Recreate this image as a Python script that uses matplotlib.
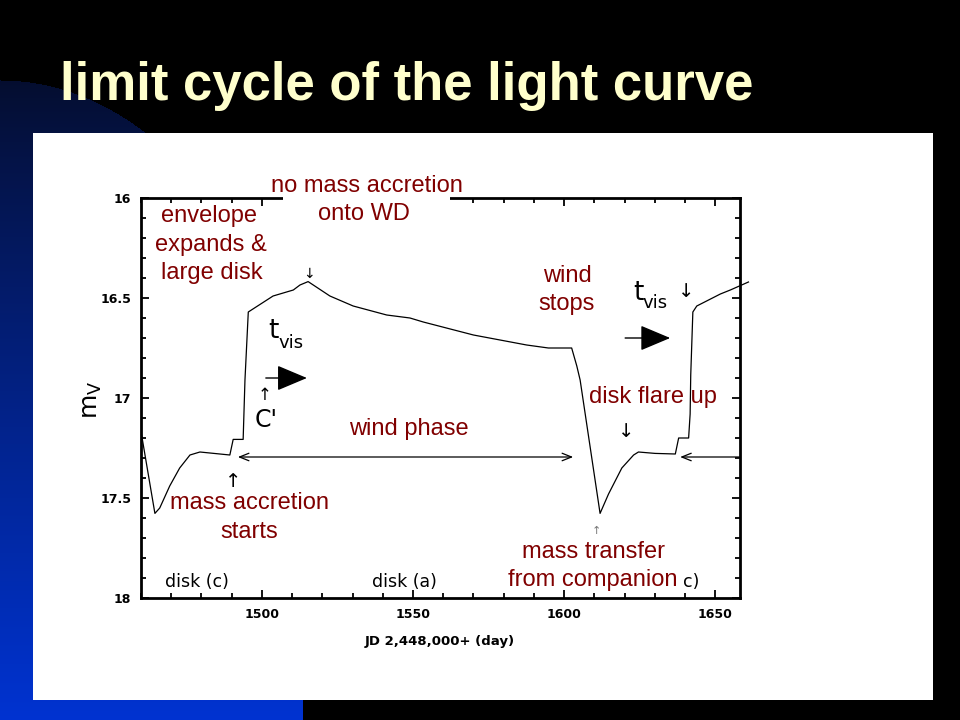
import numpy as np
import matplotlib
matplotlib.use("Agg")
import matplotlib.pyplot as plt
from matplotlib.patches import Rectangle
from matplotlib.ticker import MultipleLocator
from matplotlib import font_manager

# ---------------- data ----------------
days = [1460.2, 1464.6, 1466.2, 1469.5, 1472.8, 1476.2, 1479.5, 1482.8, 1489.4,
        1490.5, 1493.8, 1494.4, 1495.5, 1503.7, 1510.4, 1512.6, 1515.3, 1522.5,
        1530.2, 1541.3, 1549.0, 1553.4, 1570.0, 1587.6, 1594.8, 1602.5, 1604.2,
        1605.3, 1611.9, 1614.7, 1619.1, 1623.0, 1624.6, 1630.1, 1636.8, 1637.9,
        1641.2, 1641.7, 1641.9, 1642.6, 1643.9, 1651.7, 1655.0, 1661.0]
mags = [17.185, 17.577, 17.55, 17.44, 17.35, 17.285, 17.27, 17.275, 17.285,
        17.207, 17.207, 16.91, 16.57, 16.49, 16.46, 16.435, 16.418, 16.49,
        16.54, 16.585, 16.60, 16.62, 16.685, 16.735, 16.75, 16.75, 16.84,
        16.91, 17.577, 17.48, 17.35, 17.285, 17.27, 17.277, 17.28, 17.2,
        17.2, 17.08, 16.885, 16.57, 16.54, 16.48, 16.46, 16.42]
x_ticks = [1500, 1550, 1600, 1650]
y_ticks = [16, 16.5, 17, 17.5, 18]
y_tick_labels = ["16", "16.5", "17", "17.5", "18"]
title = "limit cycle of the light curve"
x_label = "JD 2,448,000+ (day)"
red_lines = [("no mass accretion", 367, 191.5), ("onto WD", 364, 220),
             ("envelope", 209, 222), ("expands &", 211, 250.5), ("large disk", 212, 279),
             ("wind", 567, 282), ("stops", 567, 310),
             ("disk flare up", 653, 403), ("wind phase", 409, 435),
             ("mass accretion", 249, 509), ("starts", 249, 537.5),
             ("mass transfer", 594, 558), ("from companion", 593, 586)]

W, H = 960, 720
fig = plt.figure(figsize=(9.6, 7.2), dpi=100)
fig.patch.set_facecolor("black")


def fx(x):
    return x / W


def fy(y):
    return 1 - y / H


# ---------------- slide background ----------------
bg = fig.add_axes([0, 0, 1, 1], zorder=-10)
yy, xx = np.mgrid[0:H, 0:W]
t = np.clip((yy - 70) / 650.0, 0, 1) ** 0.9
top = np.array([0.02, 0.05, 0.17])
bot = np.array([0.0, 0.2, 0.82])
img = np.zeros((H, W, 3))
inside = (xx < 303) & (((xx / 303.0) ** 2 + ((yy - 510) / 430.0) ** 2 <= 1) | (yy >= 510))
for c in range(3):
    img[..., c] = np.where(inside, top[c] * (1 - t) + bot[c] * t, 0.0)
bg.imshow(img, extent=[0, W, H, 0], aspect="auto", interpolation="bilinear")
bg.axis("off")

fig.add_artist(Rectangle((fx(33), fy(700)), (933 - 33) / W, (700 - 133) / H,
                         transform=fig.transFigure, facecolor="white",
                         edgecolor="none", zorder=-5))

# ---------------- title ----------------
names = {f.name for f in font_manager.fontManager.ttflist}
if "Liberation Sans Narrow" in names:
    tfam, tsize = ["Liberation Sans Narrow", "DejaVu Sans"], 45
else:
    tfam, tsize = ["Liberation Sans", "DejaVu Sans"], 38
fig.text(fx(60), fy(100), title, color="#FFFFCC", fontsize=tsize, fontweight="bold",
         family=tfam, ha="left", va="baseline")

# ---------------- main axes ----------------
ax = fig.add_axes([fx(141), fy(598), (740 - 141) / W, (598 - 198) / H])
ax.set_facecolor("none")
ax.set_xlim(1460, 1658.2)
ax.set_ylim(18, 16)
ax.set_xticks(x_ticks)
ax.set_yticks(y_ticks)
ax.set_yticklabels(y_tick_labels)
ax.xaxis.set_minor_locator(MultipleLocator(10))
ax.yaxis.set_minor_locator(MultipleLocator(0.1))
ax.tick_params(which="both", direction="in", top=True, right=True, width=1.3,
               color="black")
ax.tick_params(which="major", length=6, pad=7, labelsize=9)
ax.tick_params(which="minor", length=3.5)
for lab in ax.get_xticklabels() + ax.get_yticklabels():
    lab.set_fontweight("bold")
for s in ax.spines.values():
    s.set_linewidth(2)
    s.set_color("black")

ax.plot(days, mags, color="black", lw=0.9, clip_on=False, zorder=3)

# arrows
thin = dict(color="black", lw=0.9, shrinkA=0, shrinkB=0)
ax.annotate("", xy=(1492.05, 17.295), xytext=(1603.0, 17.295),
            arrowprops=dict(arrowstyle="<->,head_length=0.45,head_width=0.18",
                            mutation_scale=15, **thin))
ax.annotate("", xy=(1638.4, 17.295), xytext=(1658.2, 17.295),
            arrowprops=dict(arrowstyle="->,head_length=0.45,head_width=0.18",
                            mutation_scale=15, **thin))
big = dict(arrowstyle="-|>,head_length=0.95,head_width=0.4", mutation_scale=20,
           color="black", lw=1.0, shrinkA=0, shrinkB=0)
ax.annotate("", xy=(1514.9, 16.9), xytext=(1501.3, 16.9), arrowprops=big)
ax.annotate("", xy=(1635.1, 16.7), xytext=(1620.2, 16.7), arrowprops=big)

# white box breaking the top spine behind the label
fig.add_artist(Rectangle((fx(283), fy(210)), (450 - 283) / W, 18 / H,
                         transform=fig.transFigure, facecolor="white",
                         edgecolor="none", zorder=1))

# ---------------- red annotations ----------------
for txt, x, y in red_lines:
    fig.text(fx(x), fy(y), txt, color="#800000", fontsize=17,
             family=["Liberation Sans", "DejaVu Sans"], ha="center", va="baseline",
             zorder=4)

# ---------------- thin black annotations ----------------
thinfam = ["DejaVu Sans"]


def tt(x, y, s, size, ha="left", color="black", **kw):
    fig.text(fx(x), fy(y), s, fontsize=size, family=thinfam, fontweight="normal",
             ha=ha, va="baseline", color=color, zorder=4, **kw)


tt(268, 338, "t", 19)
tt(278, 348, "vis", 13)
tt(633, 300, "t", 19)
tt(642, 308, "vis", 13)
tt(686, 297, "\u2193", 14, ha="center")
tt(265, 400, "\u2191", 12, ha="center")
tt(255, 427, "C'", 17)
tt(233, 487, "\u2191", 14, ha="center")
tt(626, 437, "\u2193", 14, ha="center")
tt(309, 278, "\u2193", 10, ha="center")
tt(596, 534, "\u2191", 8, ha="center", color="#777777")
tt(165, 587, "disk (c)", 12.5)
tt(372, 587, "disk (a)", 12.5)
tt(683, 587, "c)", 12.5)

fig.text(fx(92), fy(400), r"m$_{\mathregular{V}}$", fontsize=18, family=thinfam,
         rotation=90, ha="center", va="center")
fig.text(fx(440), fy(641), x_label, fontsize=9.5, fontweight="bold",
         family="DejaVu Sans", ha="center", va="center")

fig.savefig("out.png", dpi=100, facecolor="black")
